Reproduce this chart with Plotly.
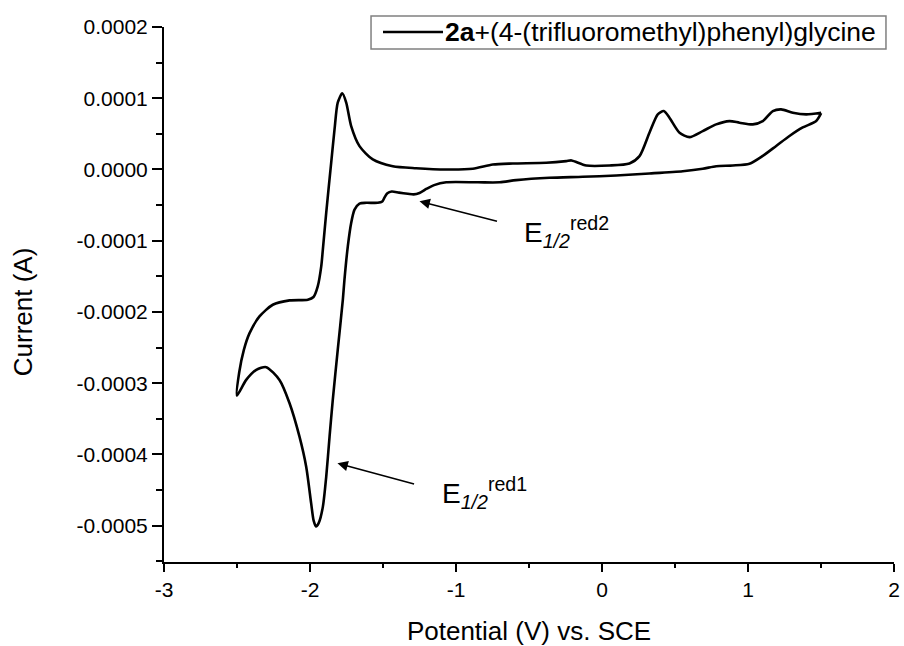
import plotly.graph_objects as go

# Cyclic voltammogram (one closed loop)
potential = [
    1.501, 1.467, 1.375, 1.284, 1.193, 1.101, 1.010, 0.896, 0.782, 0.690,
    0.553, 0.325, 0.097, -0.132, -0.360, -0.588, -0.700, -0.850, -1.067,
    -1.150, -1.200, -1.250, -1.290, -1.330, -1.390, -1.440, -1.470, -1.490,
    -1.505, -1.536, -1.615, -1.661, -1.695, -1.718, -1.741, -1.764, -1.775,
    -1.810, -1.844, -1.866, -1.889, -1.912, -1.940, -1.959, -1.975, -1.992,
    -2.026, -2.072, -2.140, -2.209, -2.300, -2.368, -2.437, -2.501,
    -2.485, -2.453, -2.414, -2.346, -2.255, -2.140, -2.015, -1.976, -1.947,
    -1.923, -1.912, -1.889, -1.855, -1.832, -1.810, -1.779, -1.752, -1.718,
    -1.661, -1.570, -1.433, -1.273, -1.067, -0.885, -0.748, -0.611, -0.382,
    -0.245, -0.209, -0.108, 0.051, 0.188, 0.257, 0.325, 0.382, 0.423, 0.462,
    0.531, 0.599, 0.690, 0.782, 0.873, 0.942, 1.033, 1.101, 1.170, 1.227,
    1.307, 1.399, 1.501,
]
current = [
    7.9e-5, 6.8e-5, 5.9e-5, 4.7e-5, 3.3e-5, 1.9e-5, 8.0e-6, 5.6e-6, 4.6e-6, 1.0e-6,
    -2.4e-6, -5.6e-6, -8.4e-6, -1.03e-5, -1.17e-5, -1.50e-5, -1.80e-5, -1.80e-5, -1.80e-5,
    -2.20e-5, -2.70e-5, -3.30e-5, -3.50e-5, -3.40e-5, -3.25e-5, -3.10e-5, -3.35e-5, -3.95e-5,
    -4.50e-5, -4.68e-5, -4.68e-5, -4.78e-5, -5.63e-5, -7.5e-5, -1.079e-4, -1.547e-4, -1.828e-4,
    -2.532e-4, -3.235e-4, -3.751e-4, -4.314e-4, -4.736e-4, -4.96e-4, -5.01e-4, -4.93e-4, -4.688e-4,
    -4.173e-4, -3.751e-4, -3.281e-4, -2.954e-4, -2.775e-4, -2.813e-4, -2.954e-4, -3.174e-4,
    -2.85e-4, -2.532e-4, -2.297e-4, -2.063e-4, -1.899e-4, -1.838e-4, -1.828e-4, -1.790e-4, -1.641e-4,
    -1.360e-4, -1.125e-4, -6.09e-5, 9.4e-6, 5.63e-5, 9.38e-5, 1.069e-4, 9.38e-5, 6.09e-5,
    3.28e-5, 1.41e-5, 4.6e-6, 1.8e-6, 0.0, 1.0e-6, 7.0e-6, 8.4e-6, 9.4e-6,
    1.17e-5, 1.27e-5, 5.6e-6, 5.6e-6, 8.4e-6, 1.87e-5, 5.16e-5, 7.74e-5, 8.2e-5, 7.27e-5,
    5.16e-5, 4.54e-5, 5.39e-5, 6.33e-5, 6.79e-5, 6.57e-5, 6.33e-5, 6.79e-5, 8.2e-5, 8.44e-5,
    7.97e-5, 7.74e-5, 7.97e-5,
]

series_name = "<b>2a</b>+(4-(trifluoromethyl)phenyl)glycine"

x_tickvals = [-3, -2, -1, 0, 1, 2]
x_ticktext = ["-3", "-2", "-1", "0", "1", "2"]
y_tickvals = [0.0002, 0.0001, 0.0, -0.0001, -0.0002, -0.0003, -0.0004, -0.0005]
y_ticktext = ["0.0002", "0.0001", "0.0000", "-0.0001", "-0.0002", "-0.0003", "-0.0004", "-0.0005"]

# annotation anchors (data units)
red1_tip = (-1.812, -4.125e-4)
red1_tail = (-1.277, -4.42e-4)
red1_text = (-1.113, -4.54e-4)
red2_tip = (-1.250, -4.46e-5)
red2_tail = (-0.709, -7.31e-5)
red2_text = (-0.551, -8.72e-5)

# legend box geometry (paper units)
LEG_X0, LEG_X1, LEG_Y0, LEG_Y1 = 0.2836, 0.989, 0.9589, 1.0206
LEG_LINE_X0, LEG_LINE_X1, LEG_MID_Y = 0.300, 0.3822, 0.9907

FONT = "Liberation Sans, Arial, sans-serif"

fig = go.Figure()
fig.add_trace(go.Scatter(
    x=potential, y=current, mode="lines", name=series_name,
    line=dict(color="black", width=2.6, shape="spline", smoothing=0.7),
    showlegend=False,
))

for tip, tail in [(red1_tip, red1_tail), (red2_tip, red2_tail)]:
    fig.add_annotation(
        x=tip[0], y=tip[1], ax=tail[0], ay=tail[1],
        xref="x", yref="y", axref="x", ayref="y",
        text="", showarrow=True, arrowhead=2, arrowsize=1.3,
        arrowwidth=1.6, arrowcolor="black",
    )

for pos, lab in [(red1_text, "red1"), (red2_text, "red2")]:
    fig.add_annotation(
        x=pos[0], y=pos[1], xref="x", yref="y",
        text="E<sub><i>1/2</i></sub><sup>" + lab + "</sup>",
        showarrow=False, xanchor="left", yanchor="middle",
        font=dict(family=FONT, size=28, color="black"),
    )

# y-axis title
fig.add_annotation(
    x=-0.193, y=0.467, xref="paper", yref="paper",
    text="Current (A)", textangle=-90, showarrow=False,
    font=dict(family=FONT, size=26, color="black"),
    xanchor="center", yanchor="middle",
)

# legend box (Origin style)
fig.add_shape(type="rect", xref="paper", yref="paper",
              x0=LEG_X0, x1=LEG_X1, y0=LEG_Y0, y1=LEG_Y1,
              line=dict(color="#808080", width=1.5), fillcolor="white", layer="above")
fig.add_shape(type="line", xref="paper", yref="paper",
              x0=LEG_LINE_X0, x1=LEG_LINE_X1, y0=LEG_MID_Y, y1=LEG_MID_Y,
              line=dict(color="black", width=2.6), layer="above")
fig.add_annotation(
    x=LEG_LINE_X1, y=LEG_MID_Y, xref="paper", yref="paper",
    text=series_name, showarrow=False, xanchor="left", yanchor="middle",
    font=dict(family=FONT, size=26.5, color="black"),
)

fig.update_layout(
    width=904, height=646,
    margin=dict(l=164, r=10, t=27, b=84, autoexpand=False),
    paper_bgcolor="white", plot_bgcolor="white",
    font=dict(family=FONT, color="black"),
    showlegend=False,
    xaxis=dict(
        range=[-3, 2], showgrid=False, zeroline=False, automargin=False,
        showline=True, linecolor="black", linewidth=2,
        ticks="outside", ticklen=8, tickwidth=2, tickcolor="black",
        tickvals=x_tickvals, ticktext=x_ticktext,
        tickfont=dict(family=FONT, size=21, color="black"),
        minor=dict(ticks="outside", ticklen=4, tickwidth=2, tickcolor="black", dtick=0.5, showgrid=False),
        title=dict(text="Potential (V) vs. SCE", standoff=23,
                   font=dict(family=FONT, size=26, color="black")),
    ),
    yaxis=dict(
        range=[-0.000551, 0.0002], showgrid=False, zeroline=False, automargin=False,
        showline=True, linecolor="black", linewidth=2,
        ticks="outside", ticklen=10, tickwidth=2, tickcolor="black",
        tickvals=y_tickvals, ticktext=y_ticktext,
        tickfont=dict(family=FONT, size=21, color="black"),
        minor=dict(ticks="outside", ticklen=6, tickwidth=2, tickcolor="black", dtick=0.00005, showgrid=False),
    ),
)

fig.write_html("out.html")
